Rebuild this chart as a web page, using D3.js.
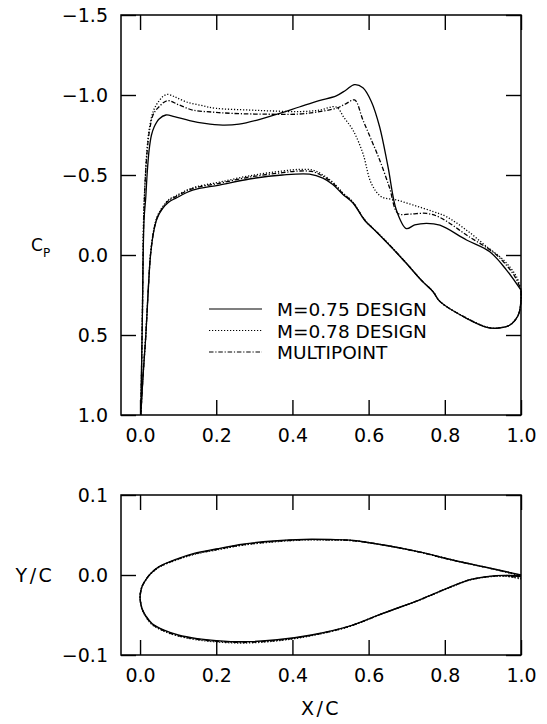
<!DOCTYPE html>
<html lang="en">
<head>
<meta charset="UTF-8">
<title>Pressure distributions and airfoil sections</title>
<script src="https://d3js.org/d3.v7.min.js"></script>
<style>
  body { margin: 0; background: #fff; }
  svg text { font-family: "DejaVu Sans", sans-serif; fill: #000; }
</style>
</head>
<body>
<div id="chart"></div>
<script>
// x/c ticks shared by both panels
const xTicks = [0, 0.2, 0.4, 0.6, 0.8, 1.0];
const cpTicks = [-1.5, -1.0, -0.5, 0.0, 0.5, 1.0];
const ycTicks = [-0.1, 0.0, 0.1];

const legendLabels = ["M=0.75 DESIGN", "M=0.78 DESIGN", "MULTIPOINT"];

// Cp, [x/c, cp], leading edge -> trailing edge
const cp75Up = [[0.002,1.0],[0.006,0.40],[0.0105,-0.22],[0.015,-0.36],[0.019,-0.52],[0.024,-0.66],[0.03,-0.75],[0.037,-0.80],[0.05,-0.85],[0.068,-0.875],[0.09,-0.865],[0.13,-0.84],[0.17,-0.822],[0.217,-0.812],[0.26,-0.818],[0.31,-0.845],[0.36,-0.88],[0.418,-0.925],[0.47,-0.965],[0.515,-0.995],[0.54,-1.03],[0.563,-1.065],[0.585,-1.045],[0.607,-0.96],[0.629,-0.80],[0.651,-0.55],[0.673,-0.28],[0.699,-0.165],[0.721,-0.188],[0.752,-0.198],[0.787,-0.186],[0.857,-0.094],[0.918,-0.02],[0.962,0.094],[1.0,0.22]];
const cp75Lo = [[0.002,1.0],[0.008,0.75],[0.015,0.51],[0.022,0.20],[0.028,-0.01],[0.037,-0.16],[0.045,-0.23],[0.059,-0.29],[0.075,-0.33],[0.094,-0.355],[0.138,-0.405],[0.208,-0.437],[0.287,-0.475],[0.374,-0.50],[0.445,-0.505],[0.48,-0.48],[0.506,-0.44],[0.532,-0.38],[0.559,-0.325],[0.59,-0.215],[0.62,-0.145],[0.651,-0.07],[0.677,-0.005],[0.70,0.055],[0.739,0.16],[0.769,0.23],[0.787,0.29],[0.857,0.396],[0.91,0.452],[0.936,0.458],[0.971,0.4375],[0.993,0.375],[1.0,0.28],[1.0,0.22]];

const cp78Up = [[0.002,1.0],[0.006,0.40],[0.009,-0.20],[0.013,-0.45],[0.018,-0.65],[0.025,-0.80],[0.035,-0.90],[0.046,-0.95],[0.06,-0.99],[0.072,-1.004],[0.09,-0.99],[0.12,-0.958],[0.16,-0.935],[0.199,-0.917],[0.287,-0.906],[0.35,-0.90],[0.418,-0.896],[0.47,-0.905],[0.515,-0.925],[0.535,-0.86],[0.559,-0.78],[0.585,-0.635],[0.607,-0.448],[0.633,-0.365],[0.673,-0.344],[0.72,-0.31],[0.77,-0.271],[0.804,-0.24],[0.86,-0.15],[0.91,-0.052],[0.954,0.031],[0.988,0.135],[1.0,0.22]];
const cp78Lo = [[0.002,1.0],[0.008,0.75],[0.015,0.50],[0.022,0.19],[0.028,-0.02],[0.037,-0.17],[0.045,-0.24],[0.059,-0.30],[0.075,-0.345],[0.094,-0.37],[0.138,-0.42],[0.208,-0.455],[0.287,-0.495],[0.374,-0.525],[0.42,-0.535],[0.455,-0.53],[0.48,-0.50],[0.506,-0.455],[0.532,-0.39],[0.559,-0.33],[0.59,-0.22],[0.62,-0.148],[0.651,-0.073],[0.677,-0.008],[0.70,0.052],[0.739,0.158],[0.769,0.227],[0.787,0.29],[0.857,0.394],[0.91,0.45],[0.936,0.456],[0.971,0.436],[0.993,0.372],[1.0,0.28],[1.0,0.22]];

const cpMultiUp = [[0.002,1.0],[0.006,0.40],[0.0095,-0.20],[0.013,-0.44],[0.018,-0.63],[0.025,-0.78],[0.035,-0.88],[0.05,-0.927],[0.072,-0.965],[0.10,-0.94],[0.138,-0.906],[0.19,-0.893],[0.243,-0.885],[0.33,-0.88],[0.418,-0.881],[0.462,-0.893],[0.515,-0.917],[0.54,-0.945],[0.563,-0.969],[0.585,-0.844],[0.607,-0.72],[0.629,-0.594],[0.655,-0.42],[0.677,-0.26],[0.708,-0.256],[0.752,-0.26],[0.787,-0.235],[0.86,-0.12],[0.936,0.0],[0.984,0.135],[1.0,0.22]];
const cpMultiLo = [[0.002,1.0],[0.008,0.75],[0.015,0.505],[0.022,0.195],[0.028,-0.015],[0.037,-0.165],[0.045,-0.235],[0.059,-0.295],[0.075,-0.34],[0.094,-0.365],[0.138,-0.415],[0.208,-0.448],[0.287,-0.487],[0.374,-0.515],[0.42,-0.525],[0.455,-0.52],[0.48,-0.492],[0.506,-0.45],[0.532,-0.385],[0.559,-0.328],[0.59,-0.218],[0.62,-0.147],[0.651,-0.072],[0.677,-0.006],[0.70,0.054],[0.739,0.159],[0.769,0.228],[0.787,0.29],[0.857,0.395],[0.91,0.451],[0.936,0.457],[0.971,0.437],[0.993,0.374],[1.0,0.28],[1.0,0.22]];

// airfoil sections, [x/c, y/c], leading edge -> trailing edge
const foil75Up = [[0,-0.028],[0.002,-0.02],[0.006,-0.0135],[0.015,-0.006],[0.028,0.002],[0.05,0.0105],[0.094,0.0195],[0.142,0.027],[0.2,0.0325],[0.27,0.0385],[0.35,0.0425],[0.43,0.0445],[0.5,0.0443],[0.56,0.0432],[0.64,0.0375],[0.73,0.0292],[0.82,0.0188],[0.91,0.0095],[1.0,0.0]];
const foil75Lo = [[0,-0.028],[0.002,-0.036],[0.006,-0.043],[0.015,-0.051],[0.032,-0.061],[0.063,-0.069],[0.1,-0.075],[0.15,-0.0795],[0.2,-0.082],[0.27,-0.0835],[0.36,-0.081],[0.45,-0.075],[0.545,-0.0646],[0.637,-0.048],[0.734,-0.031],[0.804,-0.017],[0.866,-0.0058],[0.91,-0.002],[0.958,-0.0005],[1.0,-0.002]];
const foil78Up = [[0,-0.028],[0.002,-0.02],[0.006,-0.0135],[0.015,-0.006],[0.028,0.0015],[0.05,0.0098],[0.094,0.0185],[0.142,0.0258],[0.2,0.0312],[0.27,0.0373],[0.35,0.0414],[0.43,0.0437],[0.5,0.0438],[0.56,0.0428],[0.64,0.0373],[0.73,0.0291],[0.82,0.0187],[0.91,0.0093],[1.0,-0.001]];
const foil78Lo = [[0,-0.028],[0.002,-0.036],[0.006,-0.0435],[0.015,-0.052],[0.032,-0.0622],[0.063,-0.0703],[0.1,-0.0763],[0.15,-0.081],[0.2,-0.0836],[0.27,-0.085],[0.36,-0.0823],[0.45,-0.0758],[0.545,-0.065],[0.637,-0.0482],[0.734,-0.0312],[0.804,-0.0173],[0.866,-0.0062],[0.91,-0.0026],[0.958,-0.0015],[1.0,-0.005]];
const foilMultiUp = [[0,-0.028],[0.002,-0.02],[0.006,-0.0135],[0.015,-0.006],[0.028,0.0018],[0.05,0.0101],[0.094,0.019],[0.142,0.0263],[0.2,0.0318],[0.27,0.0378],[0.35,0.0419],[0.43,0.0441],[0.5,0.044],[0.56,0.043],[0.64,0.0374],[0.73,0.0291],[0.82,0.0187],[0.91,0.0094],[1.0,-0.0005]];
const foilMultiLo = [[0,-0.028],[0.002,-0.036],[0.006,-0.0432],[0.015,-0.0515],[0.032,-0.0616],[0.063,-0.0697],[0.1,-0.0757],[0.15,-0.0803],[0.2,-0.0828],[0.27,-0.0843],[0.36,-0.0817],[0.45,-0.0754],[0.545,-0.0648],[0.637,-0.0481],[0.734,-0.0311],[0.804,-0.0172],[0.866,-0.006],[0.91,-0.0023],[0.958,-0.001],[1.0,-0.004]];

const width = 547;
const height = 724;

const styles = [
  { dash: null },
  { dash: "1.2,1.8" },
  { dash: "4.5,1.8,1.2,1.8" }
];

const svg = d3.select("#chart")
  .append("svg")
  .attr("width", width)
  .attr("height", height);

svg.append("rect").attr("width", width).attr("height", height).attr("fill", "#fff");

const x = d3.scaleLinear().domain([-0.05, 1.0]).range([121, 521]);
const yCp = d3.scaleLinear().domain([-1.5, 1.0]).range([15, 415]);
const yYc = d3.scaleLinear().domain([-0.1, 0.1]).range([655, 495]);

const fmt = d3.format(".1f");

function drawFrame(y, yTicks) {
  const top = d3.min(y.range());
  const bottom = d3.max(y.range());
  const [left, right] = x.range();
  const g = svg.append("g");

  g.append("g")
    .attr("transform", `translate(0,${bottom})`)
    .call(d3.axisBottom(x).tickValues(xTicks).tickSizeInner(-15).tickSizeOuter(0).tickPadding(14).tickFormat(fmt));
  g.append("g")
    .attr("transform", `translate(0,${top})`)
    .call(d3.axisTop(x).tickValues(xTicks).tickSizeInner(-15).tickSizeOuter(0).tickFormat(""));
  g.append("g")
    .attr("transform", `translate(${left},0)`)
    .call(d3.axisLeft(y).tickValues(yTicks).tickSizeInner(-15).tickSizeOuter(0).tickPadding(13).tickFormat(fmt));
  g.append("g")
    .attr("transform", `translate(${right},0)`)
    .call(d3.axisRight(y).tickValues(yTicks).tickSizeInner(-15).tickSizeOuter(0).tickFormat(""));

  g.selectAll(".domain").remove();
  g.selectAll(".tick line").attr("stroke", "#000").attr("stroke-width", 1.4);
  g.selectAll(".tick text").style("font-size", "19px").attr("fill", "#000");

  g.append("rect")
    .attr("x", left)
    .attr("y", top)
    .attr("width", right - left)
    .attr("height", bottom - top)
    .attr("fill", "none")
    .attr("stroke", "#000")
    .attr("stroke-width", 1.5);
}

drawFrame(yCp, cpTicks);
drawFrame(yYc, ycTicks);

// pressure loops: upper surface out to the trailing edge, lower surface back
const cpLine = d3.line()
  .x(d => x(d[0]))
  .y(d => yCp(d[1]))
  .curve(d3.curveCatmullRom.alpha(0.5));

const cpCases = [[cp75Up, cp75Lo], [cp78Up, cp78Lo], [cpMultiUp, cpMultiLo]];
cpCases.forEach(([up, lo], i) => {
  svg.append("path")
    .attr("d", cpLine(up.concat(lo.slice().reverse())))
    .attr("fill", "none")
    .attr("stroke", "#000")
    .attr("stroke-width", 1.3)
    .attr("stroke-dasharray", styles[i].dash);
});

// airfoils
const foilLine = d3.line()
  .x(d => x(d[0]))
  .y(d => yYc(d[1]))
  .curve(d3.curveCatmullRom.alpha(0.5));

const foilCases = [[foil75Up, foil75Lo], [foil78Up, foil78Lo], [foilMultiUp, foilMultiLo]];
foilCases.forEach(([up, lo], i) => {
  svg.append("path")
    .attr("d", foilLine(up.slice().reverse().concat(lo.slice(1))))
    .attr("fill", "none")
    .attr("stroke", "#000")
    .attr("stroke-width", 1.4)
    .attr("stroke-dasharray", styles[i].dash);
});

// legend
const legend = svg.append("g");
legendLabels.forEach((label, i) => {
  const ly = 309 + i * 21.5;
  legend.append("line")
    .attr("x1", 209).attr("x2", 262)
    .attr("y1", ly).attr("y2", ly)
    .attr("stroke", "#000")
    .attr("stroke-width", 1.2)
    .attr("stroke-dasharray", styles[i].dash);
  legend.append("text")
    .attr("x", 277)
    .attr("y", ly + 7)
    .style("font-size", "18.5px")
    .text(label);
});

// axis titles
svg.append("text").attr("x", 31).attr("y", 251).style("font-size", "17px").text("C");
svg.append("text").attr("x", 43).attr("y", 257).style("font-size", "12px").text("P");

svg.append("text")
  .attr("x", 35)
  .attr("y", 582)
  .attr("text-anchor", "middle")
  .style("font-size", "19px")
  .style("letter-spacing", "2.5px")
  .text("Y/C");

svg.append("text")
  .attr("x", 321)
  .attr("y", 715)
  .attr("text-anchor", "middle")
  .style("font-size", "19px")
  .style("letter-spacing", "2.5px")
  .text("X/C");
</script>
</body>
</html>
